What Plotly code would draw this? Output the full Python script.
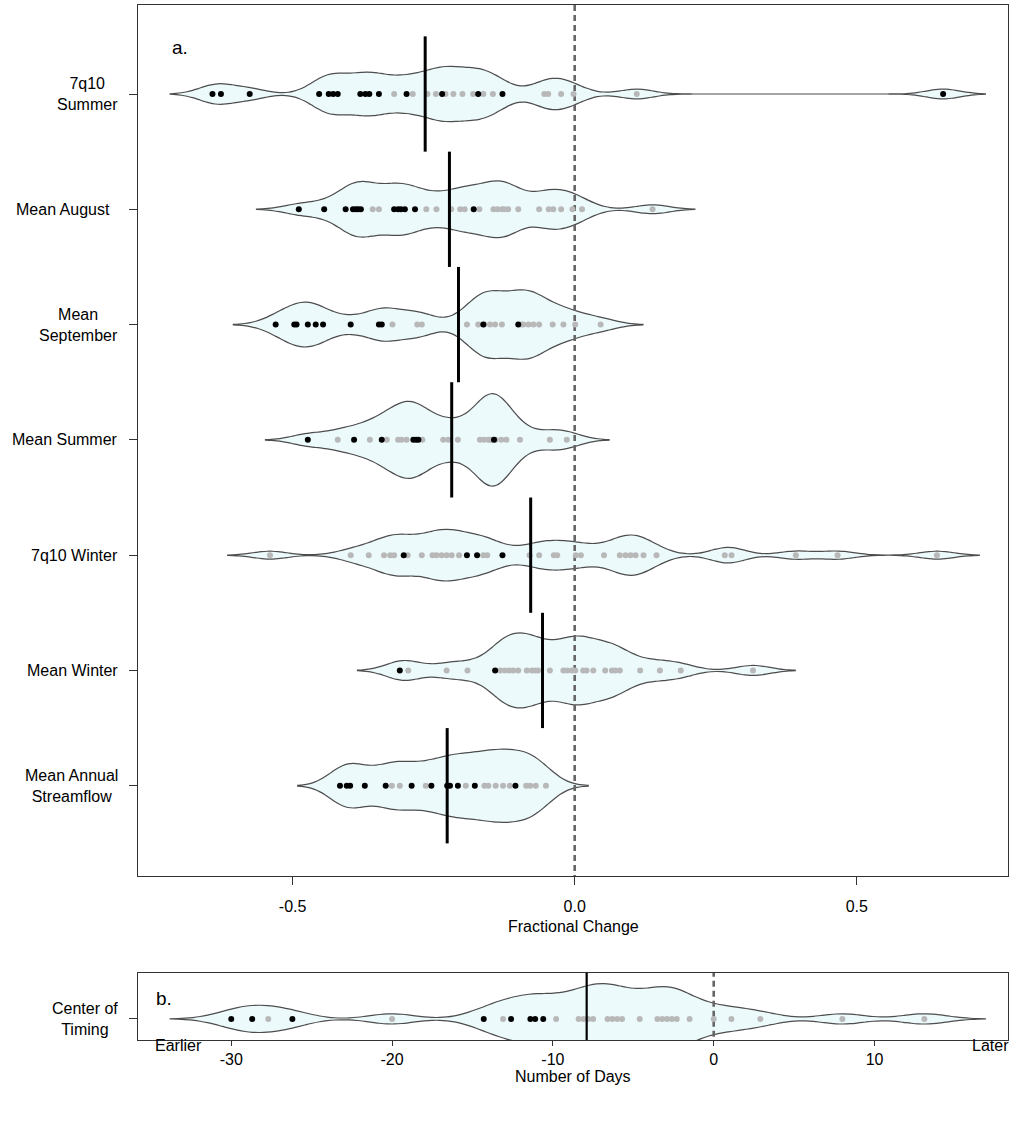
import plotly.graph_objects as go

# ---------------- data ----------------
categories = ["7q10<br>Summer", "Mean August\u00a0\u00a0", "Mean<br>September", "Mean Summer",
              "7q10 Winter", "Mean Winter", "Mean Annual<br>Streamflow"]
positions = [7, 6, 5, 4, 3, 2, 1]

summer7q10_sig = [-0.642, -0.627, -0.576, -0.453, -0.436, -0.428, -0.420, -0.380, -0.371,
                  -0.364, -0.347, -0.298, -0.235, -0.171, -0.128, 0.653]
summer7q10_ns = [-0.320, -0.287, -0.261, -0.246, -0.229, -0.215, -0.199, -0.180, -0.162,
                 -0.145, -0.054, -0.047, -0.024, -0.002, 0.110]

august_sig = [-0.489, -0.444, -0.406, -0.393, -0.388, -0.384, -0.379, -0.320, -0.313,
              -0.308, -0.301, -0.283, -0.179]
august_ns = [-0.358, -0.347, -0.263, -0.245, -0.219, -0.203, -0.195, -0.169, -0.144,
             -0.137, -0.129, -0.125, -0.118, -0.100, -0.063, -0.046, -0.038, -0.024,
             -0.004, 0.013, 0.138]

september_sig = [-0.530, -0.497, -0.493, -0.473, -0.459, -0.446, -0.397, -0.347, -0.342,
                 -0.162, -0.100]
september_ns = [-0.323, -0.279, -0.271, -0.191, -0.171, -0.160, -0.150, -0.141,
                -0.129, -0.095, -0.091, -0.082, -0.073, -0.063, -0.039,
                -0.020, 0.001, 0.046]

summer_sig = [-0.473, -0.391, -0.342, -0.286, -0.281, -0.277, -0.143]
summer_ns = [-0.420, -0.363, -0.333, -0.313, -0.307, -0.298, -0.270, -0.233, -0.224,
             -0.207, -0.168, -0.161, -0.153, -0.150, -0.147, -0.140, -0.130, -0.121,
             -0.097, -0.044, -0.014]

winter7q10_sig = [-0.303, -0.191, -0.173, -0.128]
winter7q10_ns = [-0.540, -0.397, -0.365, -0.338, -0.327, -0.320, -0.296, -0.271, -0.252,
                 -0.245, -0.236, -0.227, -0.218, -0.205, -0.162, -0.155, -0.080, -0.063,
                 -0.037, -0.031, 0.002, 0.011, 0.052, 0.080, 0.090, 0.099, 0.108, 0.122,
                 0.145, 0.266, 0.278, 0.392, 0.466, 0.642]

winter_sig = [-0.310, -0.141]
winter_ns = [-0.295, -0.227, -0.190, -0.132, -0.124, -0.116, -0.109, -0.100, -0.085,
             -0.076, -0.070, -0.065, -0.044, -0.020, -0.013, -0.005, 0.001, 0.015,
             0.021, 0.033, 0.054, 0.066, 0.072, 0.080, 0.116, 0.151, 0.188, 0.316]

annual_sig = [-0.416, -0.404, -0.398, -0.372, -0.335, -0.289, -0.254, -0.226, -0.221,
              -0.207, -0.177, -0.105]
annual_ns = [-0.324, -0.310, -0.264, -0.193, -0.160, -0.153, -0.140, -0.127, -0.115,
             -0.086, -0.079, -0.069, -0.051]

bean_lines = [-0.265, -0.222, -0.206, -0.218, -0.078, -0.057, -0.226]

sig_series = [summer7q10_sig, august_sig, september_sig, summer_sig,
              winter7q10_sig, winter_sig, annual_sig]
ns_series = [summer7q10_ns, august_ns, september_ns, summer_ns,
             winter7q10_ns, winter_ns, annual_ns]

x_ticks_a = [-0.5, 0.0, 0.5]
x_ticklabels_a = ["-0.5", "0.0", "0.5"]

timing_label = "Center of<br>Timing"
timing_sig = [-30.0, -28.7, -26.2, -14.3, -12.6, -11.4, -11.1, -10.6]
timing_ns = [-27.7, -20.0, -13.1, -9.8, -8.4, -8.1, -7.8, -7.5, -6.6, -6.3, -6.0, -5.7,
             -4.6, -3.5, -3.2, -2.9, -2.6, -2.3, -1.5, 0.0, 1.1, 2.9, 8.0, 13.1]
timing_line = -7.9
x_ticks_b = [-30, -20, -10, 0, 10]
x_ticklabels_b = ["-30", "-20", "-10", "0", "10"]

# ---------------- styling ----------------
W, H = 1010, 1126
FONT = "Liberation Sans, Arial, Helvetica, sans-serif"
FILL = "#ECFAFC"
EDGE = "#4D4D4D"
GREY = "#B8B8B8"
BW_A = 0.03
EXT_A = 0.075
BW_B = 1.4
EXT_B = 3.8


def px(x):
    return x / W


def py(y):
    return 1 - y / H


fig = go.Figure()

# panel a violins (shared density scale -> scalegroup, automatic width)
for pos, s, n in zip(positions, sig_series, ns_series):
    vals = s + n
    fig.add_trace(go.Violin(
        x=vals, y0=pos, orientation="h", side="both",
        scalegroup="a", scalemode="width", bandwidth=BW_A,
        spanmode="manual", span=[min(vals) - EXT_A, max(vals) + EXT_A],
        points=False, fillcolor=FILL, line=dict(color=EDGE, width=1.2),
        box_visible=False, meanline_visible=False, hoverinfo="skip",
        showlegend=False, xaxis="x", yaxis="y"))

# zero line a
fig.add_trace(go.Scatter(x=[0, 0], y=[0.0, 8.0], mode="lines",
                         line=dict(color="#666666", width=2.6, dash="6px,4px"),
                         showlegend=False, hoverinfo="skip", xaxis="x", yaxis="y"))

for pos, s, n in zip(positions, sig_series, ns_series):
    fig.add_trace(go.Scatter(x=n, y=[pos] * len(n), mode="markers",
                             marker=dict(color=GREY, size=6), showlegend=False,
                             hoverinfo="skip", xaxis="x", yaxis="y"))
    fig.add_trace(go.Scatter(x=s, y=[pos] * len(s), mode="markers",
                             marker=dict(color="black", size=6), showlegend=False,
                             hoverinfo="skip", xaxis="x", yaxis="y"))

for pos, m in zip(positions, bean_lines):
    fig.add_trace(go.Scatter(x=[m, m], y=[pos - 0.5, pos + 0.5], mode="lines",
                             line=dict(color="black", width=3), showlegend=False,
                             hoverinfo="skip", xaxis="x", yaxis="y"))

# panel b
tvals = timing_sig + timing_ns
fig.add_trace(go.Violin(
    x=tvals, y0=1, orientation="h", side="both",
    scalegroup="b", scalemode="width", bandwidth=BW_B,
    spanmode="manual", span=[min(tvals) - EXT_B, max(tvals) + EXT_B],
    points=False, fillcolor=FILL, line=dict(color=EDGE, width=1.2),
    box_visible=False, meanline_visible=False, hoverinfo="skip",
    showlegend=False, xaxis="x2", yaxis="y2"))
fig.add_trace(go.Scatter(x=[0, 0], y=[0.0, 2.0], mode="lines",
                         line=dict(color="#666666", width=2.6, dash="6px,4px"),
                         showlegend=False, hoverinfo="skip", xaxis="x2", yaxis="y2"))
fig.add_trace(go.Scatter(x=timing_ns, y=[1] * len(timing_ns), mode="markers",
                         marker=dict(color=GREY, size=6), showlegend=False,
                         hoverinfo="skip", xaxis="x2", yaxis="y2"))
fig.add_trace(go.Scatter(x=timing_sig, y=[1] * len(timing_sig), mode="markers",
                         marker=dict(color="black", size=6), showlegend=False,
                         hoverinfo="skip", xaxis="x2", yaxis="y2"))
fig.add_shape(type="line", xref="x2", yref="y2 domain", x0=timing_line, x1=timing_line,
              y0=0, y1=1, line=dict(color="black", width=2.2))

axis_common = dict(showgrid=False, zeroline=False, showline=True, mirror=True,
                   linecolor="#333333", linewidth=1, ticks="outside",
                   tickcolor="#333333", tickfont=dict(family=FONT, size=16, color="black"))

fig.update_layout(
    width=W, height=H, margin=dict(l=0, r=0, t=0, b=0, pad=0),
    paper_bgcolor="white", plot_bgcolor="white",
    violinmode="overlay", violingap=0.2, violingroupgap=0,
    font=dict(family=FONT, size=16, color="black"),
    xaxis=dict(domain=[px(138), px(1008)], range=[-0.774, 0.768], anchor="y",
               tickvals=x_ticks_a, ticktext=x_ticklabels_a, ticklabelstandoff=8,
               ticklen=8, **axis_common),
    yaxis=dict(domain=[py(876), py(5)], range=[0.217, 7.772], anchor="x",
               tickvals=positions, showticklabels=False, ticklen=8, **axis_common),
    xaxis2=dict(domain=[px(138), px(1008)], range=[-35.8, 18.3], anchor="y2",
                tickvals=x_ticks_b, ticktext=x_ticklabels_b, ticklabelstandoff=0,
                ticklen=5, **axis_common),
    yaxis2=dict(domain=[py(1040), py(972.7)], range=[0.76, 1.525], anchor="x2",
                tickvals=[1], showticklabels=False, ticklen=8, **axis_common),
)

ann = []
for pos, lab in zip(positions, categories):
    ann.append(dict(x=px(120), y=pos, xref="paper", yref="y", text=lab, showarrow=False,
                    xanchor="right", yanchor="middle", align="center",
                    font=dict(family=FONT, size=16)))
ann.append(dict(x=px(120), y=1, xref="paper", yref="y2", text=timing_label, showarrow=False,
                xanchor="right", yanchor="middle", align="center",
                font=dict(family=FONT, size=16)))
ann.append(dict(x=0.5, y=py(926), xref="x domain", yref="paper", text="Fractional Change",
                showarrow=False, xanchor="center", yanchor="middle",
                font=dict(family=FONT, size=16)))
ann.append(dict(x=0.5, y=py(1076), xref="x2 domain", yref="paper", text="Number of Days",
                showarrow=False, xanchor="center", yanchor="middle",
                font=dict(family=FONT, size=16)))
ann.append(dict(x=px(178), y=py(1045), xref="paper", yref="paper", text="Earlier",
                showarrow=False, xanchor="center", yanchor="middle",
                font=dict(family=FONT, size=16)))
ann.append(dict(x=px(990), y=py(1045), xref="paper", yref="paper", text="Later",
                showarrow=False, xanchor="center", yanchor="middle",
                font=dict(family=FONT, size=16)))
ann.append(dict(x=px(170), y=py(47), xref="paper", yref="paper", text="a.",
                showarrow=False, xanchor="left", yanchor="middle",
                font=dict(family=FONT, size=19)))
ann.append(dict(x=px(154), y=py(998), xref="paper", yref="paper", text="b.",
                showarrow=False, xanchor="left", yanchor="middle",
                font=dict(family=FONT, size=19)))
fig.update_layout(annotations=ann)

fig.write_html("out.html", config={"displayModeBar": False},
               post_script="document.body.style.margin='0';document.body.style.overflow='hidden';")
